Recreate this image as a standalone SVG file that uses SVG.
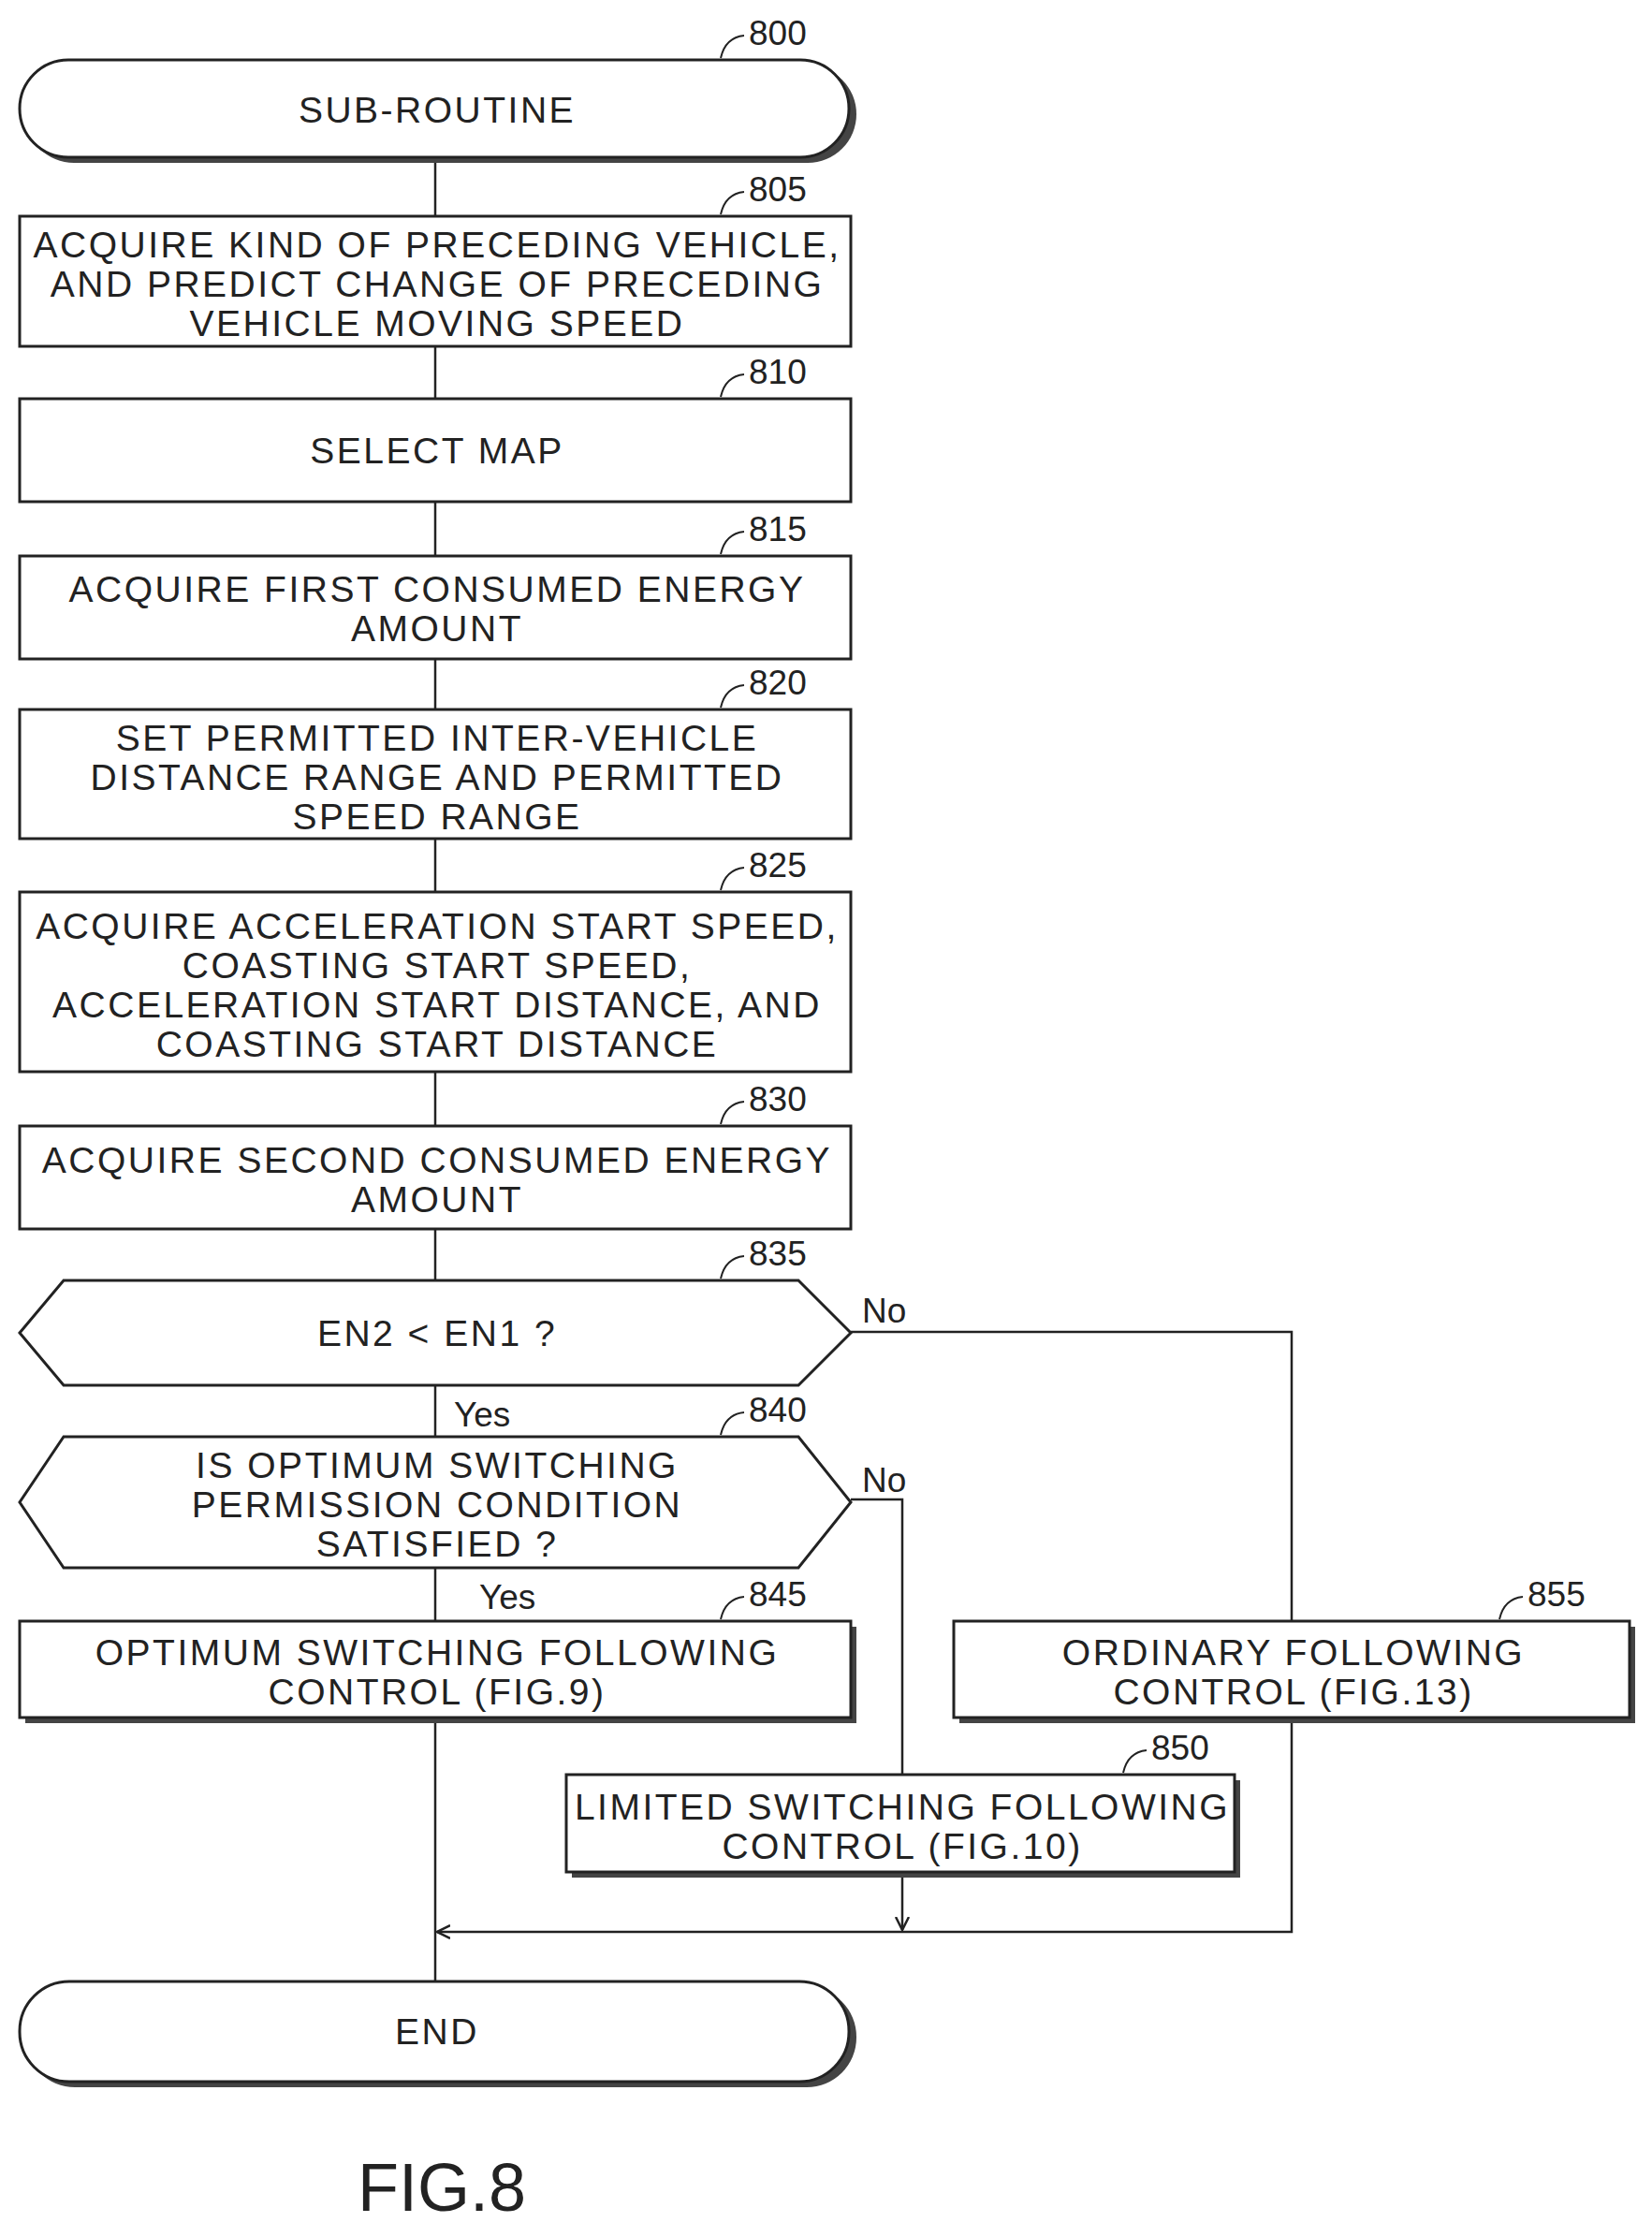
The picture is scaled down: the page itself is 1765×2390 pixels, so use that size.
<svg xmlns="http://www.w3.org/2000/svg" width="1765" height="2390" viewBox="0 0 1765 2390">
<style>
.b{fill:#fff;stroke:#222;stroke-width:3}
.s{fill:#444}
.t{font-family:"Liberation Sans",Arial,sans-serif;font-size:39px;letter-spacing:2.5px;fill:#222;text-anchor:middle}
.r{font-family:"Liberation Sans",Arial,sans-serif;font-size:37px;fill:#222}
.l{fill:none;stroke:#222;stroke-width:2.5}
.ld{fill:none;stroke:#222;stroke-width:2}
</style>
<defs>
<marker id="a" markerWidth="16" markerHeight="16" refX="14" refY="8" orient="auto" markerUnits="userSpaceOnUse"><path d="M0,1 L14,8 L0,15" fill="none" stroke="#222" stroke-width="2.5"/></marker>
</defs>
<rect width="1765" height="2390" fill="#fff"/>
<g id="connectors">
<line class="l" x1="465" y1="168" x2="465" y2="231"/>
<line class="l" x1="465" y1="370" x2="465" y2="426"/>
<line class="l" x1="465" y1="536" x2="465" y2="594"/>
<line class="l" x1="465" y1="704" x2="465" y2="758"/>
<line class="l" x1="465" y1="896" x2="465" y2="953"/>
<line class="l" x1="465" y1="1145" x2="465" y2="1203"/>
<line class="l" x1="465" y1="1313" x2="465" y2="1368"/>
<line class="l" x1="465" y1="1480" x2="465" y2="1535"/>
<line class="l" x1="465" y1="1675" x2="465" y2="1732"/>
<line class="l" x1="465" y1="1835" x2="465" y2="2117"/>
<polyline class="l" points="909,1423 1380,1423 1380,1732"/>
<polyline class="l" points="1380,1835 1380,2064 467,2064" marker-end="url(#a)"/>
<polyline class="l" points="909,1602 964,1602 964,1896"/>
<line class="l" x1="964" y1="2000" x2="964" y2="2062" marker-end="url(#a)"/>
<text class="r" x="921" y="1413">No</text>
<text class="r" x="485" y="1524">Yes</text>
<text class="r" x="921" y="1594">No</text>
<text class="r" x="512" y="1719">Yes</text>
</g>
<g id="n800">
<rect class="s" x="27" y="70" width="888" height="104" rx="52"/>
<rect class="b" x="21" y="64" width="886" height="104" rx="52"/>
<text class="t" x="467" y="131">SUB-ROUTINE</text>
<path class="ld" d="M770,62 Q775,40 795,38"/><text class="r" x="800" y="48">800</text>
</g>
<g id="n805">
<rect class="b" x="21" y="231" width="888" height="139"/>
<text class="t" x="467" y="275">ACQUIRE KIND OF PRECEDING VEHICLE,</text>
<text class="t" x="467" y="317">AND PREDICT CHANGE OF PRECEDING</text>
<text class="t" x="467" y="359">VEHICLE MOVING SPEED</text>
<path class="ld" d="M770,229 Q775,207 795,205"/><text class="r" x="800" y="215">805</text>
</g>
<g id="n810">
<rect class="b" x="21" y="426" width="888" height="110"/>
<text class="t" x="467" y="495">SELECT MAP</text>
<path class="ld" d="M770,424 Q775,402 795,400"/><text class="r" x="800" y="410">810</text>
</g>
<g id="n815">
<rect class="b" x="21" y="594" width="888" height="110"/>
<text class="t" x="467" y="643">ACQUIRE FIRST CONSUMED ENERGY</text>
<text class="t" x="467" y="685">AMOUNT</text>
<path class="ld" d="M770,592 Q775,570 795,568"/><text class="r" x="800" y="578">815</text>
</g>
<g id="n820">
<rect class="b" x="21" y="758" width="888" height="138"/>
<text class="t" x="467" y="802">SET PERMITTED INTER-VEHICLE</text>
<text class="t" x="467" y="844">DISTANCE RANGE AND PERMITTED</text>
<text class="t" x="467" y="886">SPEED RANGE</text>
<path class="ld" d="M770,756 Q775,734 795,732"/><text class="r" x="800" y="742">820</text>
</g>
<g id="n825">
<rect class="b" x="21" y="953" width="888" height="192"/>
<text class="t" x="467" y="1003">ACQUIRE ACCELERATION START SPEED,</text>
<text class="t" x="467" y="1045">COASTING START SPEED,</text>
<text class="t" x="467" y="1087">ACCELERATION START DISTANCE, AND</text>
<text class="t" x="467" y="1129">COASTING START DISTANCE</text>
<path class="ld" d="M770,951 Q775,929 795,927"/><text class="r" x="800" y="937">825</text>
</g>
<g id="n830">
<rect class="b" x="21" y="1203" width="888" height="110"/>
<text class="t" x="467" y="1253">ACQUIRE SECOND CONSUMED ENERGY</text>
<text class="t" x="467" y="1295">AMOUNT</text>
<path class="ld" d="M770,1201 Q775,1179 795,1177"/><text class="r" x="800" y="1187">830</text>
</g>
<g id="n835">
<polygon class="b" points="68,1368 853,1368 909,1424 853,1480 68,1480 21,1424"/>
<text class="t" x="467" y="1438">EN2 &lt; EN1 ?</text>
<path class="ld" d="M770,1366 Q775,1344 795,1342"/><text class="r" x="800" y="1352">835</text>
</g>
<g id="n840">
<polygon class="b" points="68,1535 853,1535 909,1605 853,1675 68,1675 21,1605"/>
<text class="t" x="467" y="1579">IS OPTIMUM SWITCHING</text>
<text class="t" x="467" y="1621">PERMISSION CONDITION</text>
<text class="t" x="467" y="1663">SATISFIED ?</text>
<path class="ld" d="M770,1533 Q775,1511 795,1509"/><text class="r" x="800" y="1519">840</text>
</g>
<g id="n845">
<rect class="s" x="27" y="1738" width="888" height="103"/>
<rect class="b" x="21" y="1732" width="888" height="103"/>
<text class="t" x="467" y="1779">OPTIMUM SWITCHING FOLLOWING</text>
<text class="t" x="467" y="1821">CONTROL (FIG.9)</text>
<path class="ld" d="M770,1730 Q775,1708 795,1706"/><text class="r" x="800" y="1716">845</text>
</g>
<g id="n855">
<rect class="s" x="1025" y="1738" width="722" height="103"/>
<rect class="b" x="1019" y="1732" width="722" height="103"/>
<text class="t" x="1382" y="1779">ORDINARY FOLLOWING</text>
<text class="t" x="1382" y="1821">CONTROL (FIG.13)</text>
<path class="ld" d="M1602,1730 Q1607,1708 1627,1706"/><text class="r" x="1632" y="1716">855</text>
</g>
<g id="n850">
<rect class="s" x="611" y="1902" width="714" height="104"/>
<rect class="b" x="605" y="1896" width="714" height="104"/>
<text class="t" x="964" y="1944">LIMITED SWITCHING FOLLOWING</text>
<text class="t" x="964" y="1986">CONTROL (FIG.10)</text>
<path class="ld" d="M1200,1894 Q1205,1872 1225,1870"/><text class="r" x="1230" y="1880">850</text>
</g>
<g id="end">
<rect class="s" x="27" y="2123" width="888" height="107" rx="53"/>
<rect class="b" x="21" y="2117" width="886" height="107" rx="53"/>
<text class="t" x="467" y="2184">END</text>
</g>
<text x="472" y="2362" font-family="Liberation Sans,Arial,sans-serif" font-size="72" fill="#222" text-anchor="middle">FIG.8</text>
</svg>
